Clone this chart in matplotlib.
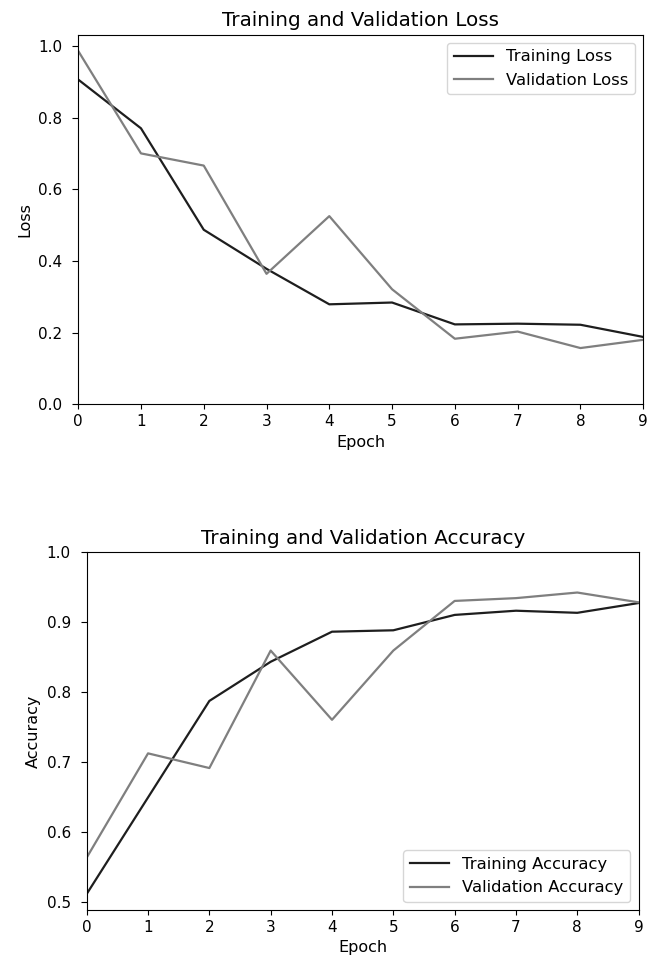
import matplotlib
matplotlib.use("Agg")
import matplotlib.pyplot as plt

# values
epochs = list(range(10))
train_loss = [0.906, 0.770, 0.487, 0.378, 0.279, 0.284, 0.223, 0.225, 0.222, 0.188]
val_loss = [0.986, 0.700, 0.666, 0.364, 0.525, 0.321, 0.183, 0.203, 0.157, 0.180]
train_acc = [0.511, 0.649, 0.787, 0.843, 0.886, 0.888, 0.910, 0.916, 0.913, 0.927]
val_acc = [0.563, 0.712, 0.691, 0.859, 0.760, 0.859, 0.930, 0.934, 0.942, 0.928]

dark = "#1e1e1e"
grey = "#7f7f7f"

# the reference text is a bit bigger than the defaults
plt.rcParams["font.family"] = ["DejaVu Sans"]
plt.rcParams["xtick.labelsize"] = 11
plt.rcParams["ytick.labelsize"] = 11
plt.rcParams["ytick.major.pad"] = 7
plt.rcParams["ytick.major.size"] = 4.5
plt.rcParams["axes.labelsize"] = 11.5
plt.rcParams["axes.titlesize"] = 14.3
plt.rcParams["legend.fontsize"] = 11.8
plt.rcParams["legend.handlelength"] = 2.4
plt.rcParams["lines.linewidth"] = 1.6

fig = plt.figure(figsize=(6.57, 9.65), dpi=100)

# loss panel
ax1 = fig.add_axes([0.119, 0.581, 0.860, 0.383])
ax1.plot(epochs, train_loss, color=dark, label="Training Loss")
ax1.plot(epochs, val_loss, color=grey, label="Validation Loss")
ax1.set_xlim(0, 9)
ax1.set_ylim(0, 1.031)
ax1.set_xticks(epochs)
ax1.set_xlabel("Epoch")
ax1.set_ylabel("Loss")
ax1.set_title("Training and Validation Loss")
ax1.legend(loc="upper right")

# accuracy panel
ax2 = fig.add_axes([0.132, 0.057, 0.840, 0.371])
ax2.plot(epochs, train_acc, color=dark, label="Training Accuracy")
ax2.plot(epochs, val_acc, color=grey, label="Validation Accuracy")
ax2.set_xlim(0, 9)
ax2.set_ylim(0.488, 1.0)
ax2.set_xticks(epochs)
ax2.set_xlabel("Epoch")
ax2.set_ylabel("Accuracy")
ax2.set_title("Training and Validation Accuracy")
ax2.legend(loc="lower right")

fig.savefig("out.png", dpi=100)
